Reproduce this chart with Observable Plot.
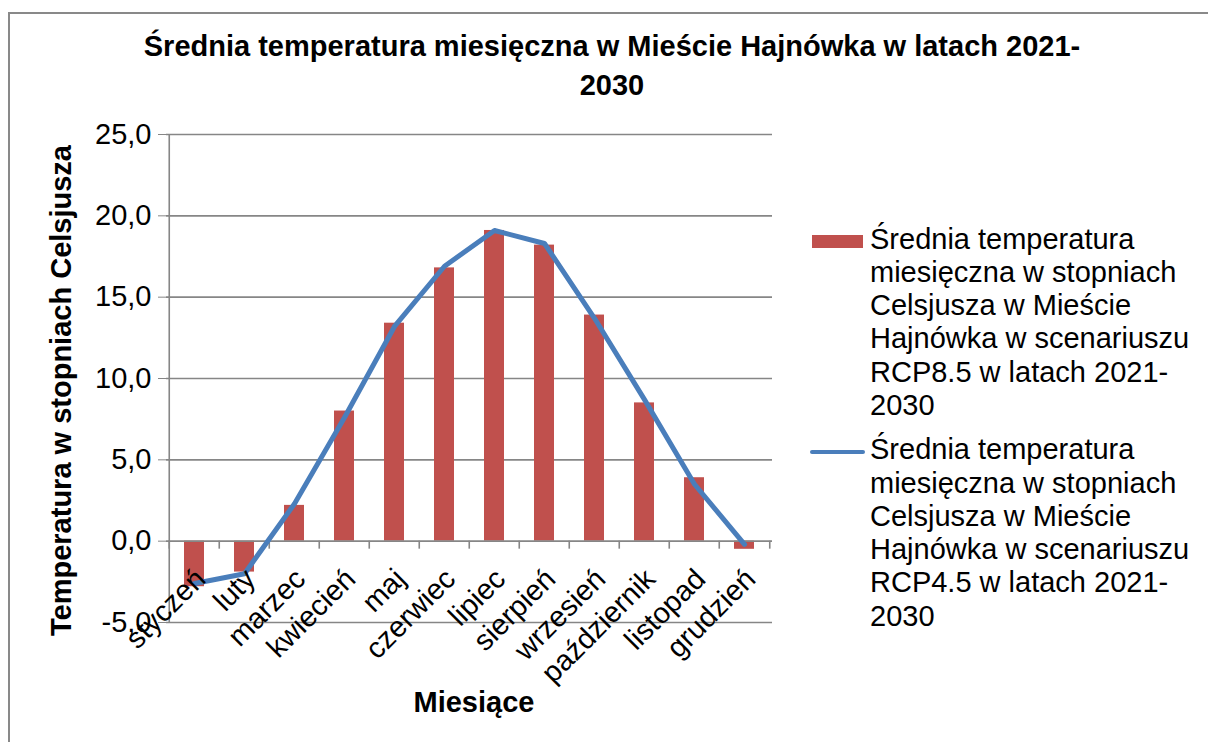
<!DOCTYPE html>
<html>
<head>
<meta charset="utf-8">
<script src="https://cdn.jsdelivr.net/npm/d3@7"></script>
<script src="https://cdn.jsdelivr.net/npm/@observablehq/plot@0.6"></script>
<style>
  html, body { margin: 0; padding: 0; background: #fff; overflow: hidden; }
  body { font-family: "Liberation Sans", Arial, sans-serif; color: #000; }
  #wrap { position: relative; width: 1208px; height: 742px; overflow: hidden; }
  #frame { position: absolute; left: 8px; top: 12px; width: 1400px; height: 900px; border: 2px solid #898989; box-sizing: border-box; }
  #chart { position: absolute; left: 0; top: 0; }
  #title { position: absolute; left: 8px; width: 1208px; top: 27px; text-align: center; font-weight: bold; font-size: 29px; line-height: 39px; white-space: nowrap; }
  #ytitle { position: absolute; width: 600px; left: -239px; top: 376px; text-align: center; font-weight: bold; font-size: 29px; line-height: 29px; transform: rotate(-90deg); white-space: nowrap; }
  #xtitle { position: absolute; width: 400px; left: 274px; top: 688px; text-align: center; font-weight: bold; font-size: 29px; line-height: 29px; white-space: nowrap; }
  .legtext { position: absolute; left: 870px; font-size: 29px; line-height: 33.3px; white-space: nowrap; }
  .swatch { position: absolute; }
  #chart [aria-label="y-axis tick"] { stroke: #868686; }
</style>
</head>
<body>
<div id="wrap">
  <div id="frame"></div>
  <div id="chart"></div>
  <div id="title"></div>
  <div id="ytitle"></div>
  <div id="xtitle"></div>
  <div class="swatch" style="left:812px; top:235px; width:51px; height:13px; background:#C0504D;"></div>
  <div class="legtext" id="leg1" style="top:222.6px;"></div>
  <div class="swatch" style="left:810px; top:449.5px; width:55px; height:4.5px; background:#4A7EBB; border-radius:2px;"></div>
  <div class="legtext" id="leg2" style="top:433.3px;"></div>
</div>
<script>
// ---- data ----
const months = ["styczeń", "luty", "marzec", "kwiecień", "maj", "czerwiec", "lipiec", "sierpień", "wrzesień", "październik", "listopad", "grudzień"];
const rcp85 = [-2.8, -1.9, 2.2, 8.0, 13.4, 16.8, 19.1, 18.2, 13.9, 8.5, 3.9, -0.5];
const rcp45 = [-2.6, -2.0, 2.3, 7.6, 13.2, 16.9, 19.1, 18.3, 13.7, 8.7, 3.5, -0.2];
const yTicks = [-5, 0, 5, 10, 15, 20, 25];
const titleLines = ["Średnia temperatura miesięczna w Mieście Hajnówka w latach 2021-", "2030"];
const yTitle = "Temperatura w stopniach Celsjusza";
const xTitle = "Miesiące";
const legend85 = ["Średnia temperatura", "miesięczna w stopniach", "Celsjusza w Mieście", "Hajnówka w scenariuszu", "RCP8.5 w latach 2021-", "2030"];
const legend45 = ["Średnia temperatura", "miesięczna w stopniach", "Celsjusza w Mieście", "Hajnówka w scenariuszu", "RCP4.5 w latach 2021-", "2030"];

// ---- text blocks ----
document.getElementById("title").innerHTML = titleLines.join("<br>");
document.getElementById("ytitle").textContent = yTitle;
document.getElementById("xtitle").textContent = xTitle;
document.getElementById("leg1").innerHTML = legend85.join("<br>");
document.getElementById("leg2").innerHTML = legend45.join("<br>");

// ---- chart ----
const W = 1208, H = 742, ML = 166, MR = 436, MT = 134, MB = 120;
const step = (W - ML - MR) / months.length;
const data = months.map((m, i) => ({month: m, rcp85: rcp85[i], rcp45: rcp45[i]}));
const grey = "#868686";
const tickLen = 8 * (yTicks[yTicks.length - 1] - yTicks[0]) / (H - MT - MB);

const chart = Plot.plot({
  width: W,
  height: H,
  marginLeft: ML,
  marginRight: MR,
  marginTop: MT,
  marginBottom: MB,
  style: {fontFamily: "'Liberation Sans', Arial, sans-serif", fontSize: "29px", color: "#000", background: "transparent", overflow: "visible"},
  x: {type: "band", domain: months, paddingInner: 0.6, paddingOuter: 0.3, axis: null},
  y: {domain: [yTicks[0], yTicks[yTicks.length - 1]], ticks: yTicks, tickFormat: d => d.toFixed(1).replace(".", ","), tickSize: 8, tickPadding: 7, label: null},
  marks: [
    Plot.ruleY(yTicks.filter(t => t !== 0), {stroke: grey, strokeWidth: 1.6}),
    Plot.barY(data, {x: "month", y: "rcp85", fill: "#C0504D"}),
    Plot.ruleY([0], {stroke: grey, strokeWidth: 1.6}),
    Plot.ruleX([months[0]], {x: d => d, y1: yTicks[0], y2: yTicks[yTicks.length - 1], dx: -step / 2, stroke: grey, strokeWidth: 1.6}),
    Plot.ruleX(months, {x: d => d, y1: 0, y2: -tickLen, dx: -step / 2, stroke: grey, strokeWidth: 1.6}),
    Plot.ruleX([months[months.length - 1]], {x: d => d, y1: 0, y2: -tickLen, dx: step / 2, stroke: grey, strokeWidth: 1.6}),
    Plot.line(data, {x: "month", y: "rcp45", stroke: "#4A7EBB", strokeWidth: 5, strokeLinejoin: "round", strokeLinecap: "round"}),
    Plot.text(data, {x: "month", y: () => 0, text: "month", rotate: -45, textAnchor: "end", dx: 6, dy: 33, fontSize: 29, fill: "#000"})
  ]
});
document.getElementById("chart").appendChild(chart);
</script>
</body>
</html>
